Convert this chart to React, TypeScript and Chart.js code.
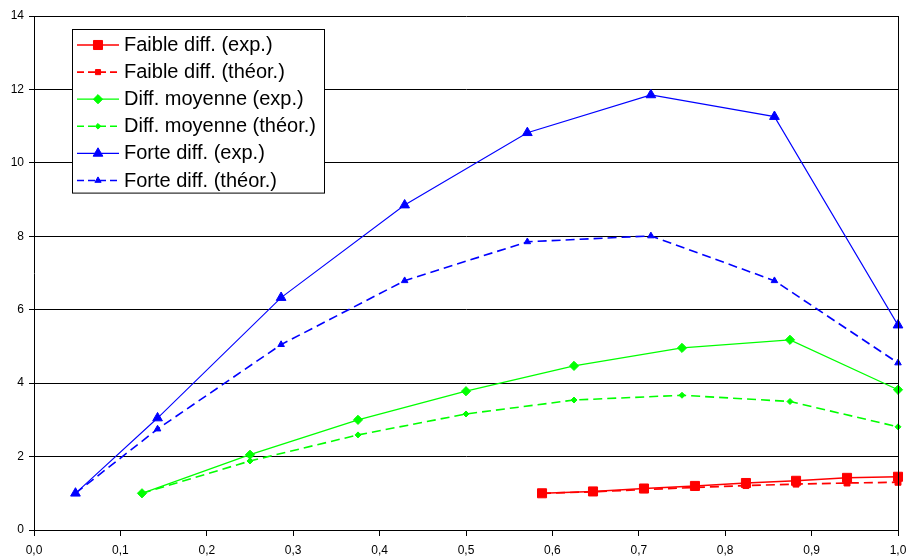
import React, { useEffect, useRef } from "react";
import { Chart, registerables } from "chart.js";

Chart.register(...registerables);

// ---- data ----
const faibleX = [0.588, 0.647, 0.706, 0.765, 0.824, 0.882, 0.941, 1.0];
const faibleExp = [1.0, 1.05, 1.13, 1.2, 1.28, 1.34, 1.42, 1.45];
const faibleTheor = [1.0, 1.04, 1.1, 1.16, 1.21, 1.25, 1.28, 1.3];

const moyenneX = [0.125, 0.25, 0.375, 0.5, 0.625, 0.75, 0.875, 1.0];
const moyenneExp = [1.0, 2.05, 3.0, 3.78, 4.47, 4.96, 5.18, 3.82];
const moyenneTheor = [1.0, 1.88, 2.59, 3.16, 3.54, 3.67, 3.5, 2.81];

const forteX = [0.048, 0.143, 0.286, 0.429, 0.571, 0.714, 0.857, 1.0];
const forteExp = [1.0, 3.05, 6.33, 8.85, 10.82, 11.85, 11.26, 5.58];
const forteTheor = [1.0, 2.75, 5.05, 6.79, 7.85, 8.01, 6.79, 4.55];

const seriesLabels = [
  "Faible diff. (exp.)",
  "Faible diff. (théor.)",
  "Diff. moyenne (exp.)",
  "Diff. moyenne (théor.)",
  "Forte diff. (exp.)",
  "Forte diff. (théor.)",
];

const xTicks = [0, 0.1, 0.2, 0.3, 0.4, 0.5, 0.6, 0.7, 0.8, 0.9, 1.0];
const yTicks = [0, 2, 4, 6, 8, 10, 12, 14];

const RED = "#ff0000";
const GREEN = "#00ff00";
const BLUE = "#0000ff";
const FONT = '"Liberation Sans", Arial, sans-serif';
const DASH = [9, 5];

const pts = (xs: number[], ys: number[]) => xs.map((x, i) => ({ x, y: ys[i] }));

type Style = { color: string; shape: string; r: number; dashed: boolean; lw: number; legendR: number };
const styles: Style[] = [
  { color: RED, shape: "rect", r: 6.4, dashed: false, lw: 1.5, legendR: 6.4 },
  { color: RED, shape: "rect", r: 4.2, dashed: true, lw: 1.7, legendR: 3.6 },
  { color: GREEN, shape: "rectRot", r: 4.6, dashed: false, lw: 1.3, legendR: 4.6 },
  { color: GREEN, shape: "rectRot", r: 3, dashed: true, lw: 1.6, legendR: 2.8 },
  { color: BLUE, shape: "triangle", r: 5.6, dashed: false, lw: 1.1, legendR: 5.6 },
  { color: BLUE, shape: "triangle", r: 3.8, dashed: true, lw: 1.6, legendR: 3.6 },
];

function drawMarker(ctx: CanvasRenderingContext2D, shape: string, x: number, y: number, r: number) {
  ctx.beginPath();
  if (shape === "rect") {
    const s = Math.SQRT1_2 * r;
    ctx.rect(x - s, y - s, 2 * s, 2 * s);
  } else if (shape === "rectRot") {
    ctx.moveTo(x - r, y);
    ctx.lineTo(x, y - r);
    ctx.lineTo(x + r, y);
    ctx.lineTo(x, y + r);
    ctx.closePath();
  } else {
    const w = r * Math.sin((2 * Math.PI) / 3);
    ctx.moveTo(x, y - r);
    ctx.lineTo(x + w, y + r / 2);
    ctx.lineTo(x - w, y + r / 2);
    ctx.closePath();
  }
  ctx.fill();
  ctx.stroke();
}

const boxLegend = {
  id: "boxLegend",
  afterDraw(chart: any) {
    const ctx: CanvasRenderingContext2D = chart.ctx;
    const area = chart.chartArea;
    // right border of plot area
    ctx.save();
    ctx.strokeStyle = "#000";
    ctx.lineWidth = 1;
    ctx.beginPath();
    ctx.moveTo(Math.round(area.right) + 0.5, area.top);
    ctx.lineTo(Math.round(area.right) + 0.5, area.bottom);
    ctx.stroke();

    const left = area.left + 38;
    const top = area.top + 13;
    const w = 252;
    const rowH = 27.1;
    const h = rowH * seriesLabels.length + 1;
    ctx.fillStyle = "#fff";
    ctx.fillRect(left, top, w, h);
    ctx.strokeRect(Math.round(left) + 0.5, Math.round(top) + 0.5, w, h);

    seriesLabels.forEach((label, i) => {
      const st = styles[i];
      const cy = top + 16 + i * rowH;
      const x0 = left + 5;
      const x1 = left + 47;
      ctx.strokeStyle = st.color;
      ctx.lineWidth = st.lw;
      ctx.setLineDash(st.dashed ? [7, 4] : []);
      ctx.beginPath();
      ctx.moveTo(x0, cy);
      ctx.lineTo(x1, cy);
      ctx.stroke();
      ctx.setLineDash([]);
      ctx.fillStyle = st.color;
      ctx.lineWidth = 1;
      drawMarker(ctx, st.shape, (x0 + x1) / 2, cy, st.legendR);
      ctx.fillStyle = "#000";
      ctx.font = `20px ${FONT}`;
      ctx.textBaseline = "alphabetic";
      ctx.textAlign = "left";
      ctx.fillText(label, left + 52, cy + 6);
    });
    ctx.restore();
  },
};

export default function App() {
  const ref = useRef<HTMLCanvasElement>(null);
  useEffect(() => {
    document.body.style.margin = "0";
    const xs = [faibleX, faibleX, moyenneX, moyenneX, forteX, forteX];
    const ys = [faibleExp, faibleTheor, moyenneExp, moyenneTheor, forteExp, forteTheor];
    const chart = new Chart(ref.current as HTMLCanvasElement, {
      type: "line",
      data: {
        datasets: seriesLabels.map((label, i) => {
          const st = styles[i];
          return {
            label,
            data: pts(xs[i], ys[i]),
            borderColor: st.color,
            backgroundColor: st.color,
            borderWidth: st.lw,
            borderDash: st.dashed ? DASH : [],
            pointStyle: st.shape as any,
            pointRadius: st.r,
            pointBorderWidth: 1,
            pointBackgroundColor: st.color,
            pointBorderColor: st.color,
            tension: 0,
            fill: false,
            clip: false as any,
          };
        }),
      },
      options: {
        animation: false,
        responsive: false,
        events: [],
        layout: { padding: { top: 16, right: 10, left: 0, bottom: 0 } },
        plugins: { legend: { display: false }, tooltip: { enabled: false } },
        scales: {
          x: {
            type: "linear",
            min: 0,
            max: 1,
            afterFit: (s: any) => {
              s.height = 26;
              s.paddingLeft = 0;
              s.paddingRight = 0;
            },
            afterBuildTicks: (s: any) => {
              s.ticks = xTicks.map((v) => ({ value: v }));
            },
            ticks: {
              color: "#000",
              font: { family: FONT, size: 12 },
              padding: 7,
              maxRotation: 0,
              autoSkip: false,
              callback: (v: any) => Number(v).toFixed(1).replace(".", ","),
            },
            grid: { drawOnChartArea: false, drawTicks: true, tickLength: 6, color: "#000", lineWidth: 1 },
            border: { color: "#000", width: 1 },
          },
          y: {
            type: "linear",
            min: 0,
            max: 14,
            afterFit: (s: any) => {
              s.width = 34;
              s.paddingTop = 0;
              s.paddingBottom = 0;
            },
            afterBuildTicks: (s: any) => {
              s.ticks = yTicks.map((v) => ({ value: v }));
            },
            ticks: {
              color: "#000",
              font: { family: FONT, size: 12 },
              padding: 5,
              autoSkip: false,
              callback: (v: any) => String(v),
            },
            grid: { drawOnChartArea: true, drawTicks: true, tickLength: 5, color: "#000", lineWidth: 1 },
            border: { color: "#000", width: 1 },
          },
        },
      },
      plugins: [boxLegend],
    });
    return () => chart.destroy();
  }, []);
  return (
    <div style={{ width: 908, height: 556, background: "#fff" }}>
      <canvas ref={ref} width={908} height={556} style={{ width: 908, height: 556, display: "block" }} />
    </div>
  );
}
